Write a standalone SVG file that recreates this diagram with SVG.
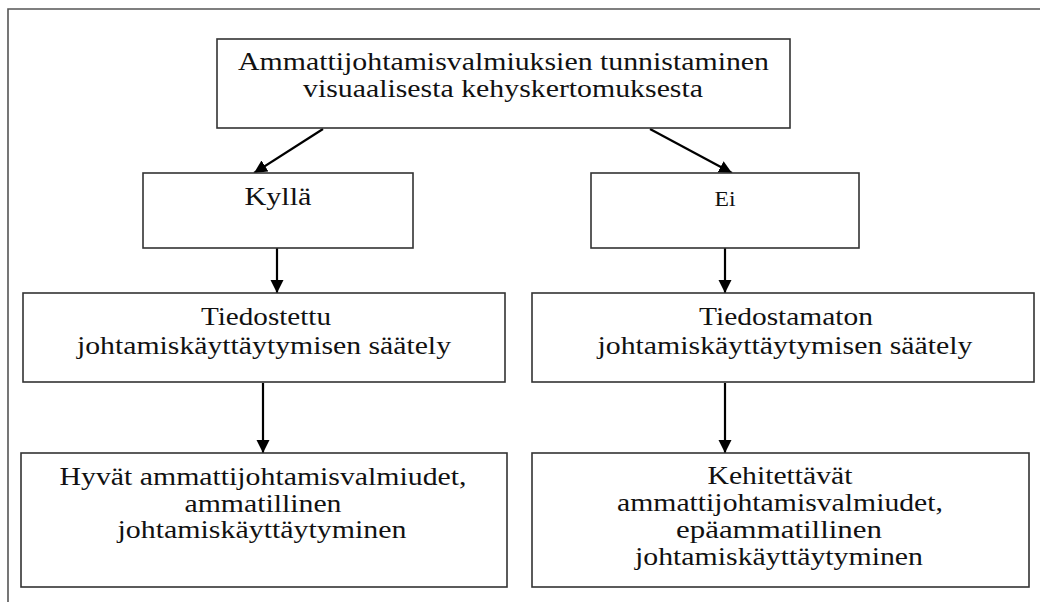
<svg xmlns="http://www.w3.org/2000/svg" width="1040" height="602" viewBox="0 0 1040 602">
<style>
.box{fill:#fff;stroke:#333;stroke-width:1.6}
.t{font-family:"Liberation Serif","DejaVu Serif",serif;font-size:25px;fill:#111;text-anchor:middle}
.s{font-size:21px}
.c{stroke:#000;stroke-width:2.2;fill:none;marker-end:url(#ah)}
.frame{stroke:#555;stroke-width:1.6;fill:none}
</style>
<defs>
<marker id="ah" markerUnits="userSpaceOnUse" markerWidth="14" markerHeight="14" refX="13" refY="6.5" orient="auto">
<path d="M0,0 L13,6.5 L0,13 z" fill="#000"/>
</marker>
</defs>
<rect width="1040" height="602" fill="#fff"/>
<path class="frame" d="M8,602 V9 H1040"/>
<g id="connectors">
<line class="c" x1="323" y1="129" x2="254" y2="173"/>
<line class="c" x1="650" y1="129" x2="732" y2="173"/>
<line class="c" x1="277" y1="248" x2="277" y2="293"/>
<line class="c" x1="725" y1="248" x2="725" y2="293"/>
<line class="c" x1="263" y1="383" x2="263" y2="453"/>
<line class="c" x1="725" y1="383" x2="725" y2="453"/>
</g>
<g font-family="Liberation Serif, DejaVu Serif, serif">
<g id="node-top">
<rect class="box" x="217" y="39" width="573" height="89"/>
<text class="t" x="503.5" y="70" textLength="531" lengthAdjust="spacingAndGlyphs">Ammattijohtamisvalmiuksien tunnistaminen</text>
<text class="t" x="503" y="97" textLength="400" lengthAdjust="spacingAndGlyphs">visuaalisesta kehyskertomuksesta</text>
</g>
<g id="node-kylla">
<rect class="box" x="143" y="173" width="270" height="75"/>
<text class="t" x="278" y="205" textLength="67" lengthAdjust="spacingAndGlyphs">Kyllä</text>
</g>
<g id="node-ei">
<rect class="box" x="591" y="173" width="268" height="75"/>
<text class="t s" x="725" y="206" textLength="21" lengthAdjust="spacingAndGlyphs">Ei</text>
</g>
<g id="node-tiedostettu">
<rect class="box" x="23" y="293" width="482" height="89"/>
<text class="t" x="266" y="325" textLength="130" lengthAdjust="spacingAndGlyphs">Tiedostettu</text>
<text class="t" x="264" y="354" textLength="374" lengthAdjust="spacingAndGlyphs">johtamiskäyttäytymisen säätely</text>
</g>
<g id="node-tiedostamaton">
<rect class="box" x="532" y="293" width="502" height="89"/>
<text class="t" x="786" y="325" textLength="174" lengthAdjust="spacingAndGlyphs">Tiedostamaton</text>
<text class="t" x="785" y="354" textLength="375" lengthAdjust="spacingAndGlyphs">johtamiskäyttäytymisen säätely</text>
</g>
<g id="node-hyvat">
<rect class="box" x="21" y="453" width="486" height="134"/>
<text class="t" x="263" y="485" textLength="407" lengthAdjust="spacingAndGlyphs">Hyvät ammattijohtamisvalmiudet,</text>
<text class="t" x="263" y="512" textLength="157" lengthAdjust="spacingAndGlyphs">ammatillinen</text>
<text class="t" x="262" y="538" textLength="289" lengthAdjust="spacingAndGlyphs">johtamiskäyttäytyminen</text>
</g>
<g id="node-kehitettavat">
<rect class="box" x="532" y="453" width="497" height="134"/>
<text class="t" x="780" y="484" textLength="145" lengthAdjust="spacingAndGlyphs">Kehitettävät</text>
<text class="t" x="780" y="511" textLength="326" lengthAdjust="spacingAndGlyphs">ammattijohtamisvalmiudet,</text>
<text class="t" x="779" y="538" textLength="206" lengthAdjust="spacingAndGlyphs">epäammatillinen</text>
<text class="t" x="779" y="565" textLength="288" lengthAdjust="spacingAndGlyphs">johtamiskäyttäytyminen</text>
</g>
</g>
</svg>
